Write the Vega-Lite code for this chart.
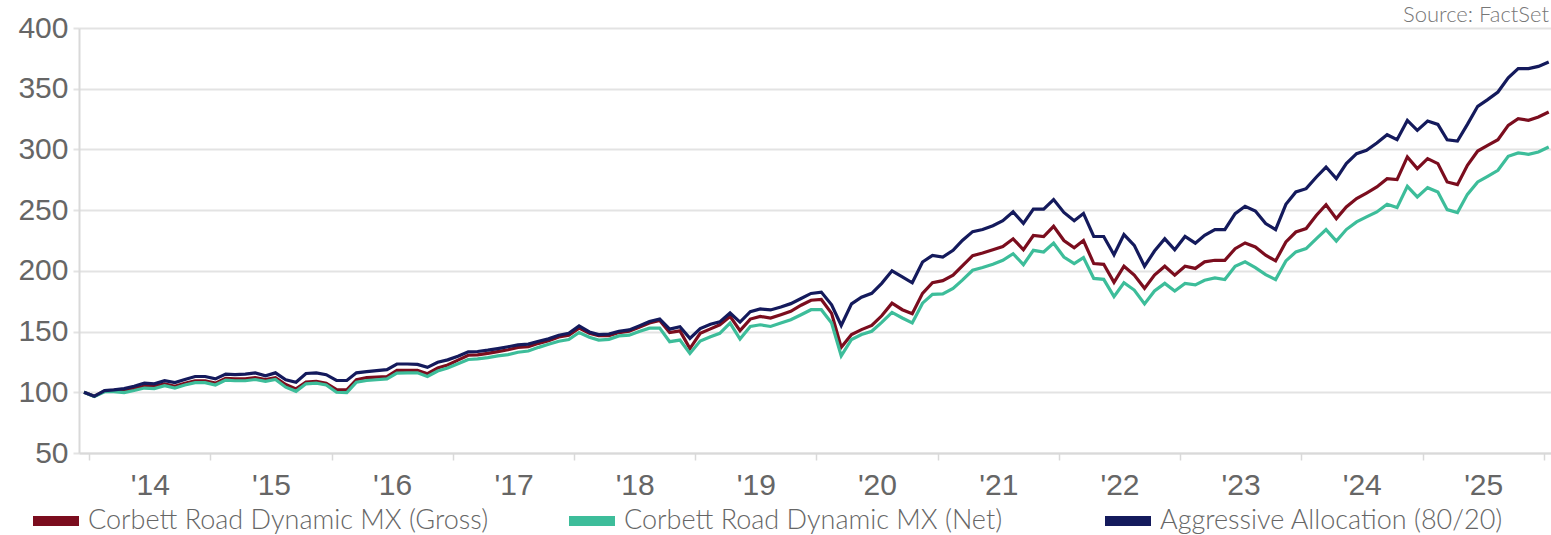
{
  "$schema": "https://vega.github.io/schema/vega-lite/v6.json",
  "autosize": {"type": "none"},
  "padding": {"left": 79, "top": 28, "right": 0, "bottom": 82},
  "width": 1480,
  "height": 425,
  "background": "white",
  "title": {"text": "Source: FactSet", "anchor": "end", "frame": "group", "orient": "top", "font": "Lato", "fontWeight": 300, "fontSize": 22, "color": "#777777", "offset": 0, "dy": 14, "dx": -10},
  "config": {"view": {"stroke": null}, "font": "Liberation Sans"},
  "data": {"values": [
    {"date": "2013-12", "agg": 100, "gross": 100, "net": 100},
    {"date": "2014-01", "agg": 96.7, "gross": 96.7, "net": 96.5},
    {"date": "2014-02", "agg": 101.4, "gross": 101, "net": 100.5},
    {"date": "2014-03", "agg": 102, "gross": 101.5, "net": 100.5},
    {"date": "2014-04", "agg": 103, "gross": 101.5, "net": 99.8},
    {"date": "2014-05", "agg": 105, "gross": 103, "net": 101.5},
    {"date": "2014-06", "agg": 107.5, "gross": 105, "net": 103.5},
    {"date": "2014-07", "agg": 107, "gross": 105, "net": 103},
    {"date": "2014-08", "agg": 109.5, "gross": 107, "net": 105.5},
    {"date": "2014-09", "agg": 108, "gross": 105, "net": 103.5},
    {"date": "2014-10", "agg": 110.5, "gross": 107.5, "net": 106},
    {"date": "2014-11", "agg": 113, "gross": 109.5, "net": 108},
    {"date": "2014-12", "agg": 113, "gross": 109.5, "net": 108},
    {"date": "2015-01", "agg": 111, "gross": 107.5, "net": 106},
    {"date": "2015-02", "agg": 115, "gross": 111.5, "net": 110},
    {"date": "2015-03", "agg": 114.5, "gross": 111, "net": 109.5},
    {"date": "2015-04", "agg": 115, "gross": 111, "net": 109.5},
    {"date": "2015-05", "agg": 116, "gross": 112, "net": 110.5},
    {"date": "2015-06", "agg": 113.6, "gross": 110.5, "net": 109},
    {"date": "2015-07", "agg": 116, "gross": 112, "net": 110.5},
    {"date": "2015-08", "agg": 110.3, "gross": 106.4, "net": 104.2},
    {"date": "2015-09", "agg": 108.3, "gross": 102.8, "net": 100.8},
    {"date": "2015-10", "agg": 115.5, "gross": 108.5, "net": 107},
    {"date": "2015-11", "agg": 116, "gross": 109, "net": 107.5},
    {"date": "2015-12", "agg": 114.5, "gross": 107.5, "net": 106},
    {"date": "2016-01", "agg": 109.7, "gross": 102.2, "net": 100},
    {"date": "2016-02", "agg": 109.7, "gross": 102, "net": 99.8},
    {"date": "2016-03", "agg": 116, "gross": 110.3, "net": 108.3},
    {"date": "2016-04", "agg": 117, "gross": 112, "net": 109.7},
    {"date": "2016-05", "agg": 117.8, "gross": 112.5, "net": 110.3},
    {"date": "2016-06", "agg": 118.6, "gross": 113, "net": 111},
    {"date": "2016-07", "agg": 123.3, "gross": 118, "net": 115.8},
    {"date": "2016-08", "agg": 123.3, "gross": 118, "net": 116},
    {"date": "2016-09", "agg": 123, "gross": 118, "net": 116},
    {"date": "2016-10", "agg": 120.5, "gross": 115.3, "net": 113},
    {"date": "2016-11", "agg": 124.7, "gross": 120, "net": 117.5},
    {"date": "2016-12", "agg": 126.7, "gross": 122.5, "net": 120},
    {"date": "2017-01", "agg": 129.7, "gross": 126.5, "net": 123.5},
    {"date": "2017-02", "agg": 133.3, "gross": 130.5, "net": 127},
    {"date": "2017-03", "agg": 133.6, "gross": 130.8, "net": 127.5},
    {"date": "2017-04", "agg": 134.7, "gross": 132, "net": 128.5},
    {"date": "2017-05", "agg": 136, "gross": 133.5, "net": 130},
    {"date": "2017-06", "agg": 137.5, "gross": 135, "net": 131},
    {"date": "2017-07", "agg": 139, "gross": 137, "net": 133},
    {"date": "2017-08", "agg": 139.7, "gross": 137.5, "net": 134},
    {"date": "2017-09", "agg": 142, "gross": 140.3, "net": 137},
    {"date": "2017-10", "agg": 144, "gross": 142.5, "net": 139.5},
    {"date": "2017-11", "agg": 147, "gross": 145.5, "net": 142},
    {"date": "2017-12", "agg": 148.6, "gross": 147, "net": 143.5},
    {"date": "2018-01", "agg": 154.7, "gross": 152.8, "net": 149.2},
    {"date": "2018-02", "agg": 149.7, "gross": 148.6, "net": 145.3},
    {"date": "2018-03", "agg": 147.5, "gross": 146.7, "net": 143},
    {"date": "2018-04", "agg": 148, "gross": 146.7, "net": 143.6},
    {"date": "2018-05", "agg": 150.3, "gross": 149.2, "net": 146.4},
    {"date": "2018-06", "agg": 151.4, "gross": 150.3, "net": 147},
    {"date": "2018-07", "agg": 154.7, "gross": 153.6, "net": 150},
    {"date": "2018-08", "agg": 158.3, "gross": 157, "net": 152.8},
    {"date": "2018-09", "agg": 160.3, "gross": 159.2, "net": 152.8},
    {"date": "2018-10", "agg": 152, "gross": 149.2, "net": 141.7},
    {"date": "2018-11", "agg": 154, "gross": 150.6, "net": 143},
    {"date": "2018-12", "agg": 144.4, "gross": 136, "net": 132},
    {"date": "2019-01", "agg": 152.5, "gross": 148.6, "net": 142.2},
    {"date": "2019-02", "agg": 156, "gross": 152.2, "net": 145.8},
    {"date": "2019-03", "agg": 158, "gross": 155.6, "net": 148.6},
    {"date": "2019-04", "agg": 165.3, "gross": 162.5, "net": 157},
    {"date": "2019-05", "agg": 157.8, "gross": 150.8, "net": 143.9},
    {"date": "2019-06", "agg": 166.4, "gross": 160.3, "net": 154.2},
    {"date": "2019-07", "agg": 168.6, "gross": 162.5, "net": 155.6},
    {"date": "2019-08", "agg": 167.8, "gross": 161.1, "net": 154.2},
    {"date": "2019-09", "agg": 170.3, "gross": 163.9, "net": 157},
    {"date": "2019-10", "agg": 173, "gross": 166.7, "net": 159.7},
    {"date": "2019-11", "agg": 177.2, "gross": 171.7, "net": 163.9},
    {"date": "2019-12", "agg": 181.4, "gross": 175.8, "net": 168},
    {"date": "2020-01", "agg": 182.5, "gross": 176.4, "net": 168},
    {"date": "2020-02", "agg": 172, "gross": 165, "net": 157},
    {"date": "2020-03", "agg": 155, "gross": 137, "net": 130},
    {"date": "2020-04", "agg": 172.8, "gross": 147.6, "net": 143.5},
    {"date": "2020-05", "agg": 178.3, "gross": 151.6, "net": 147.6},
    {"date": "2020-06", "agg": 181.5, "gross": 155, "net": 150.3},
    {"date": "2020-07", "agg": 189.7, "gross": 163, "net": 157.6},
    {"date": "2020-08", "agg": 200, "gross": 173.4, "net": 165.8},
    {"date": "2020-09", "agg": 195, "gross": 168, "net": 161.2},
    {"date": "2020-10", "agg": 190.2, "gross": 164.7, "net": 157.1},
    {"date": "2020-11", "agg": 207.3, "gross": 181.5, "net": 173.4},
    {"date": "2020-12", "agg": 212.8, "gross": 190.2, "net": 180.7},
    {"date": "2021-01", "agg": 211.4, "gross": 191.9, "net": 181},
    {"date": "2021-02", "agg": 216.9, "gross": 196.5, "net": 185.6},
    {"date": "2021-03", "agg": 225, "gross": 204.1, "net": 192.4},
    {"date": "2021-04", "agg": 232.3, "gross": 212.5, "net": 200.5},
    {"date": "2021-05", "agg": 234, "gross": 214.7, "net": 202.7},
    {"date": "2021-06", "agg": 237.2, "gross": 217.4, "net": 205.4},
    {"date": "2021-07", "agg": 241.3, "gross": 220.1, "net": 208.7},
    {"date": "2021-08", "agg": 248.6, "gross": 226.4, "net": 214.1},
    {"date": "2021-09", "agg": 239.1, "gross": 217.4, "net": 205.1},
    {"date": "2021-10", "agg": 250.8, "gross": 229.1, "net": 216.9},
    {"date": "2021-11", "agg": 250.8, "gross": 228.3, "net": 215.5},
    {"date": "2021-12", "agg": 258.7, "gross": 236.7, "net": 222.8},
    {"date": "2022-01", "agg": 248.1, "gross": 225, "net": 211.4},
    {"date": "2022-02", "agg": 241.3, "gross": 219, "net": 206},
    {"date": "2022-03", "agg": 247.3, "gross": 225, "net": 210.9},
    {"date": "2022-04", "agg": 228.3, "gross": 206, "net": 193.8},
    {"date": "2022-05", "agg": 228.3, "gross": 205.4, "net": 193},
    {"date": "2022-06", "agg": 213.3, "gross": 190.5, "net": 178.8},
    {"date": "2022-07", "agg": 229.9, "gross": 203.8, "net": 190.2},
    {"date": "2022-08", "agg": 221, "gross": 196.5, "net": 184.2},
    {"date": "2022-09", "agg": 203.8, "gross": 185.6, "net": 172.8},
    {"date": "2022-10", "agg": 216.3, "gross": 196.5, "net": 183.4},
    {"date": "2022-11", "agg": 226.4, "gross": 203.8, "net": 189.7},
    {"date": "2022-12", "agg": 217.4, "gross": 196.5, "net": 183.4},
    {"date": "2023-01", "agg": 228.3, "gross": 203.8, "net": 189.7},
    {"date": "2023-02", "agg": 222.8, "gross": 202, "net": 188.5},
    {"date": "2023-03", "agg": 229.3, "gross": 207.4, "net": 192.3},
    {"date": "2023-04", "agg": 234, "gross": 208.7, "net": 194.2},
    {"date": "2023-05", "agg": 234, "gross": 208.7, "net": 192.8},
    {"date": "2023-06", "agg": 247.1, "gross": 218.3, "net": 203.8},
    {"date": "2023-07", "agg": 253.2, "gross": 223, "net": 207.4},
    {"date": "2023-08", "agg": 249.3, "gross": 219.7, "net": 202.7},
    {"date": "2023-09", "agg": 238.9, "gross": 212.9, "net": 196.9},
    {"date": "2023-10", "agg": 234, "gross": 208.2, "net": 192.8},
    {"date": "2023-11", "agg": 254.8, "gross": 223.8, "net": 208.2},
    {"date": "2023-12", "agg": 265, "gross": 232, "net": 215.6},
    {"date": "2024-01", "agg": 267.7, "gross": 234.8, "net": 218.3},
    {"date": "2024-02", "agg": 277.3, "gross": 245.8, "net": 226.6},
    {"date": "2024-03", "agg": 285.5, "gross": 254.5, "net": 234},
    {"date": "2024-04", "agg": 276, "gross": 243, "net": 224.6},
    {"date": "2024-05", "agg": 288.3, "gross": 252.6, "net": 234},
    {"date": "2024-06", "agg": 296.5, "gross": 259.5, "net": 240.3},
    {"date": "2024-07", "agg": 299.3, "gross": 264.1, "net": 244.4},
    {"date": "2024-08", "agg": 305.3, "gross": 269.1, "net": 248.5},
    {"date": "2024-09", "agg": 312.1, "gross": 275.9, "net": 254.8},
    {"date": "2024-10", "agg": 308, "gross": 275.1, "net": 252.1},
    {"date": "2024-11", "agg": 323.9, "gross": 293.8, "net": 269.6},
    {"date": "2024-12", "agg": 315.7, "gross": 284.2, "net": 260.9},
    {"date": "2025-01", "agg": 323.4, "gross": 292.4, "net": 268.5},
    {"date": "2025-02", "agg": 320.6, "gross": 288.3, "net": 265},
    {"date": "2025-03", "agg": 308, "gross": 273.2, "net": 250.4},
    {"date": "2025-04", "agg": 306.9, "gross": 271, "net": 248},
    {"date": "2025-05", "agg": 320.6, "gross": 286.9, "net": 263},
    {"date": "2025-06", "agg": 335.5, "gross": 298.7, "net": 273.2},
    {"date": "2025-07", "agg": 341, "gross": 303.4, "net": 277.9},
    {"date": "2025-08", "agg": 347.3, "gross": 308, "net": 282.8},
    {"date": "2025-09", "agg": 359, "gross": 319.8, "net": 294.3},
    {"date": "2025-10", "agg": 366.5, "gross": 325.3, "net": 297.1},
    {"date": "2025-11", "agg": 366.5, "gross": 324, "net": 296},
    {"date": "2025-12", "agg": 368.4, "gross": 326.7, "net": 297.9},
    {"date": "2026-01", "agg": 372, "gross": 330.8, "net": 302}
  ]},
  "transform": [{"fold": ["gross", "net", "agg"], "as": ["series", "value"]}],
  "mark": {"type": "line", "strokeWidth": 3.2, "interpolate": "linear"},
  "encoding": {
    "x": {
      "field": "date", "type": "temporal",
      "scale": {"domain": [{"year": 2013, "month": 11, "date": 16}, {"year": 2026, "month": 2, "date": 1}]},
      "axis": {
        "title": null, "grid": false,
        "tickCount": {"interval": "year", "step": 1},
        "tickOffset": -5, "labelOffset": 60.6,
        "tickSize": 7, "tickColor": "#d9d9d9", "tickWidth": 1.5,
        "domainColor": "#d9d9d9", "domainWidth": 2,
        "labelFont": "Liberation Sans", "labelFontSize": 30, "labelColor": "#666666",
        "labelPadding": 10, "labelFlush": false, "labelOverlap": false, "labelBound": false,
        "labelExpr": "year(datum.value) > 2025 ? '' : \"'\" + timeFormat(datum.value, '%y')"
      }
    },
    "y": {
      "field": "value", "type": "quantitative",
      "scale": {"domain": [50, 400], "nice": false, "zero": false},
      "axis": {
        "title": null, "values": [50, 100, 150, 200, 250, 300, 350, 400],
        "grid": true, "gridColor": "#e3e3e3", "gridWidth": 2,
        "tickSize": 6, "tickColor": "#e3e3e3", "tickWidth": 2,
        "domainColor": "#d9d9d9", "domainWidth": 2,
        "labelFont": "Liberation Sans", "labelFontSize": 30, "labelColor": "#666666",
        "labelPadding": 5, "labelFlush": false, "labelOverlap": false, "labelBound": false
      }
    },
    "color": {
      "field": "series", "type": "nominal",
      "scale": {"domain": ["gross", "net", "agg"], "range": ["#7b0d1e", "#3dbd9a", "#141a5c"]},
      "legend": {
        "title": null, "orient": "none", "legendX": -51, "legendY": 465,
        "direction": "horizontal", "columns": 3, "gridAlign": "all", "columnPadding": 60,
        "symbolType": "stroke", "symbolSize": 2116, "symbolStrokeWidth": 10,
        "labelFont": "Lato", "labelFontWeight": 300, "labelFontSize": 27, "labelColor": "#666666",
        "labelOffset": 4, "labelLimit": 0, "padding": 0,
        "labelExpr": "datum.label == 'gross' ? 'Corbett Road Dynamic MX (Gross)' : datum.label == 'net' ? 'Corbett Road Dynamic MX (Net)' : 'Aggressive Allocation (80/20)'"
      }
    }
  }
}
